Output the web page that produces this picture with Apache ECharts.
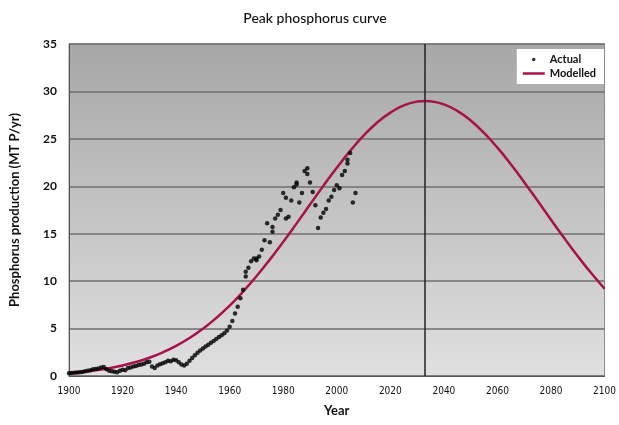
<!DOCTYPE html>
<html>
<head>
<meta charset="utf-8">
<script src="https://cdn.jsdelivr.net/npm/echarts@6/dist/echarts.min.js"></script>
<style>
  html, body { margin: 0; padding: 0; background: #fff; }
  #chart { width: 619px; height: 425px; }
</style>
</head>
<body>
<div id="chart"></div>
<script>
// actual production [year, MT P/yr]
const actualYears = [
  1900, 1901, 1902, 1903, 1904, 1905, 1906, 1907, 1908, 1909,
  1910, 1911, 1912, 1913, 1914, 1915, 1916, 1917, 1918, 1919,
  1920, 1921, 1922, 1923, 1924, 1925, 1926, 1927, 1928, 1929,
  1930, 1931, 1932, 1933, 1934, 1935, 1936, 1937, 1938, 1939,
  1940, 1941, 1942, 1943, 1944, 1945, 1946, 1947, 1948, 1949,
  1950, 1951, 1952, 1953, 1954, 1955, 1956, 1957, 1958, 1959,
  1960, 1961, 1962, 1963, 1964, 1965, 1966, 1967, 1968, 1969,
  1970, 1971, 1972, 1973, 1974, 1975, 1976, 1977, 1978, 1979,
  1980, 1981, 1982, 1983, 1984, 1985, 1986, 1987, 1988, 1989,
  1990, 1991, 1992, 1993, 1994, 1995, 1996, 1997, 1998, 1999,
  2000, 2001, 2002, 2003, 2004, 2005, 2006, 2007
];
const actualValues = [
  0.30, 0.32, 0.35, 0.38, 0.40, 0.42, 0.50, 0.55, 0.60, 0.70,
  0.75, 0.80, 0.90, 0.95, 0.70, 0.55, 0.50, 0.45, 0.40, 0.55,
  0.65, 0.60, 0.85, 0.90, 1.00, 1.05, 1.15, 1.20, 1.30, 1.45,
  1.50, 1.00, 0.85, 1.10, 1.25, 1.35, 1.45, 1.60, 1.55, 1.70,
  1.65, 1.45, 1.20, 1.10, 1.30, 1.60, 1.90, 2.20, 2.45, 2.70,
  2.90, 3.10, 3.30, 3.50, 3.70, 3.90, 4.10, 4.30, 4.50, 4.80,
  5.20, 5.80, 6.60, 7.30, 8.20, 9.10, 10.5, 11.4, 12.1, 12.4,
  12.2, 12.6, 13.3, 14.3, 16.1, 14.1, 15.2, 16.6, 17.0, 17.5,
  19.3, 18.8, 16.8, 18.5, 19.9, 20.2, 18.3, 19.3, 21.6, 21.3,
  20.4, 19.4, 18.0, 15.6, 16.7, 17.2, 17.6, 18.5, 18.9, 19.6,
  20.1, 19.8, 21.2, 21.6, 22.4, 23.5, 18.3, 19.3
];
// a few extra points where the scatter doubles up
const extraYears = [1966, 1970, 1976, 1981, 1985, 1989, 2004];
const extraValues = [11.0, 12.4, 15.7, 16.6, 20.4, 21.9, 22.8];

// modelled curve, every 5 years
const modelYears = [
  1900, 1905, 1910, 1915, 1920, 1925, 1930, 1935, 1940, 1945,
  1950, 1955, 1960, 1965, 1970, 1975, 1980, 1985, 1990, 1995,
  2000, 2005, 2010, 2015, 2020, 2025, 2030, 2033, 2035, 2040,
  2045, 2050, 2055, 2060, 2065, 2070, 2075, 2080, 2085, 2090,
  2095, 2100
];
const modelValues = [
  0.31, 0.44, 0.61, 0.82, 1.11, 1.47, 1.92, 2.49, 3.17, 4.00,
  4.98, 6.12, 7.42, 8.89, 10.51, 12.27, 14.14, 16.09, 18.07, 20.05,
  21.95, 23.73, 25.33, 26.70, 27.77, 28.53, 28.93, 29.0, 28.97, 28.64,
  27.95, 26.94, 25.62, 24.07, 22.32, 20.43, 18.47, 16.48, 14.52, 12.63,
  10.85, 9.20
];
const peakYear = 2033;

const fontFam = "Lato, 'Noto Sans', sans-serif";

const actualData = actualYears.map((y, i) => [y, actualValues[i]])
  .concat(extraYears.map((y, i) => [y, extraValues[i]]));
const modelData = modelYears.map((y, i) => [y, modelValues[i]]);

const chart = echarts.init(document.getElementById("chart"));
chart.setOption({
  animation: false,
  title: {
    text: "Peak phosphorus curve",
    left: 310,
    textAlign: "center",
    top: 6,
    textStyle: { fontFamily: fontFam, fontSize: 14, fontWeight: 500, color: "#111" },
  },
  legend: {
    orient: "vertical",
    right: 15,
    top: 49,
    backgroundColor: "#fff",
    padding: [5, 8, 5, 6],
    itemGap: 3,
    itemWidth: 22,
    itemHeight: 10,
    textStyle: { fontFamily: fontFam, fontSize: 11, fontWeight: "bold", color: "#111" },
    data: [
      {
        name: "Actual",
        icon: "path://M0,0 M22,10 M11,3.2 A1.8,1.8 0 1 1 11,6.8 A1.8,1.8 0 1 1 11,3.2 Z",
        itemStyle: { color: "#000" },
      },
      { name: "Modelled", icon: "path://M0,4 L22,4 L22,6.5 L0,6.5 Z" },
    ],
  },
  grid: {
    left: 69,
    right: 13,
    top: 44,
    bottom: 49,
    show: true,
    borderColor: "#8a8a8a",
    borderWidth: 1,
    backgroundColor: {
      type: "linear", x: 0, y: 0, x2: 0, y2: 1,
      colorStops: [
        { offset: 0, color: "#a7a7a7" },
        { offset: 1, color: "#e0e0e0" },
      ],
    },
  },
  xAxis: {
    type: "value",
    min: 1900,
    max: 2100,
    interval: 20,
    name: "Year",
    nameLocation: "middle",
    nameGap: 28,
    nameTextStyle: { fontFamily: fontFam, fontSize: 13, fontWeight: "bold", color: "#111" },
    axisLine: { show: true, lineStyle: { color: "#555", width: 1 } },
    axisTick: { show: false },
    splitLine: { show: false },
    axisLabel: {
      fontFamily: "'Liberation Sans Narrow', 'DejaVu Sans Condensed', sans-serif",
      fontSize: 10,
      color: "#111",
      margin: 10,
      formatter: (v) => String(v),
    },
  },
  yAxis: {
    type: "value",
    min: 0,
    max: 35,
    interval: 5,
    name: "Phosphorus production (MT P/yr)",
    nameLocation: "middle",
    nameGap: 48,
    nameRotate: 90,
    nameTextStyle: { fontFamily: fontFam, fontSize: 13, fontWeight: "bold", color: "#111" },
    axisLine: { show: true, lineStyle: { color: "#555", width: 1 } },
    axisTick: { show: false },
    splitLine: { lineStyle: { color: "#6e6e6e", width: 1.5 } },
    axisLabel: { fontFamily: fontFam, fontSize: 12, fontWeight: "bold", color: "#111", margin: 12 },
  },
  series: [
    {
      name: "Actual",
      type: "scatter",
      data: actualData,
      symbol: "circle",
      symbolSize: 4.5,
      itemStyle: { color: "#000" },
      z: 3,
    },
    {
      name: "Modelled",
      type: "line",
      data: modelData,
      smooth: true,
      showSymbol: false,
      lineStyle: { color: "#a8124a", width: 2.5 },
      itemStyle: { color: "#a8124a" },
      z: 2,
      markLine: {
        silent: true,
        symbol: "none",
        label: { show: false },
        lineStyle: { color: "#222", width: 1.5, type: "solid" },
        data: [{ xAxis: peakYear }],
      },
    },
  ],
});
</script>
</body>
</html>
